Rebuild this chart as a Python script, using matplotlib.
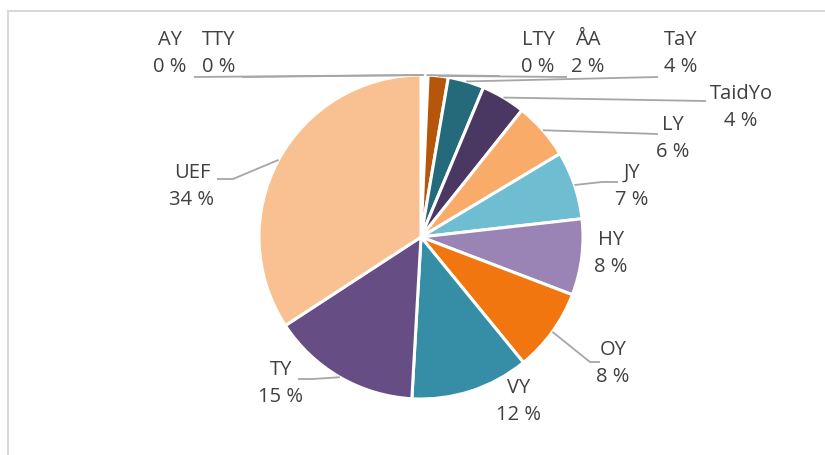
import matplotlib
matplotlib.use("Agg")
import matplotlib.pyplot as plt
from matplotlib.patches import Rectangle
import numpy as np

plt.rcParams['font.family'] = ['Open Sans', 'DejaVu Sans']

names = ["AY", "TTY", "LTY", "ÅA", "TaY", "TaidYo", "LY", "JY", "HY", "OY", "VY", "TY", "UEF"]
shares = [0.2, 0.2, 0.3, 2.0, 3.6, 4.4, 5.7, 6.8, 7.6, 8.3, 11.8, 14.9, 34.2]
colors = ["#5B9BD5", "#A5A5A5", "#FFC000", "#B5560A", "#256A7A", "#4B3862",
          "#F9AB6A", "#6FBDD1", "#9A84B5", "#F2760F", "#368DA6", "#664E85", "#F9C191"]

W, H = 825, 455
CX, CY, R = 421, 237, 162   # pie centre and radius in pixels


def px(x, y):
    # pixel position (from top-left) -> data units, pie radius = 1
    return (x - CX) / R, (CY - y) / R


# label position (centre of name line) and leader line end / elbow, in pixels
label_pos = {
    "AY": (170, 40), "TTY": (219, 40), "LTY": (538, 40), "ÅA": (588, 40),
    "TaY": (681, 40), "TaidYo": (741, 94), "LY": (673, 125), "JY": (632, 173),
    "HY": (611, 240), "OY": (613, 350), "VY": (519, 388), "TY": (281, 370),
    "UEF": (192, 173),
}
leaders = {
    "AY": [(194, 77)], "TTY": [(242, 77)], "LTY": [(500, 76)], "ÅA": [(567, 77)],
    "TaY": [(658, 77)], "TaidYo": [(706, 101)], "LY": [(658, 134)],
    "JY": [(602, 182), (618, 182)], "OY": [(590, 362), (600, 362)],
    "TY": [(313, 379), (298, 379)], "UEF": [(233, 179), (217, 179)],
}

fig = plt.figure(figsize=(W / 100, H / 100), dpi=100)
ax = fig.add_axes([0, 0, 1, 1])
ax.set_xlim(-CX / R, (W - CX) / R)
ax.set_ylim(-(H - CY) / R, CY / R)
ax.axis("off")

wedges, _ = ax.pie(shares, colors=colors, startangle=90, counterclock=False,
                   radius=1, center=(0, 0), frame=True,
                   wedgeprops=dict(edgecolor="white", linewidth=2.2))
ax.set_xlim(-CX / R, (W - CX) / R)
ax.set_ylim(-(H - CY) / R, CY / R)
ax.set_aspect("auto")
ax.axis("off")

text_col = "#404040"
line_col = "#A6A6A6"
for w, name, val in zip(wedges, names, shares):
    mid = np.deg2rad((w.theta1 + w.theta2) / 2)
    sx, sy = np.cos(mid), np.sin(mid)
    if name in leaders:
        pts = [(sx, sy)] + [px(*p) for p in leaders[name]]
        xs, ys = zip(*pts)
        ax.plot(xs, ys, color=line_col, lw=1.3, solid_capstyle="butt")
    lx, ly = label_pos[name]
    ax.text(*px(lx, ly), name, ha="center", va="center", fontsize=14.5, color=text_col)
    ax.text(*px(lx, ly + 27), f"{val:.0f} %", ha="center", va="center",
            fontsize=14.5, color=text_col)

fig.patches.append(Rectangle((7.5 / W, -0.1), 2, (H - 10.5) / H + 0.1,
                             transform=fig.transFigure, fill=False,
                             edgecolor="#D9D9D9", lw=1.5))

fig.savefig("out.png", dpi=100, facecolor="white")
